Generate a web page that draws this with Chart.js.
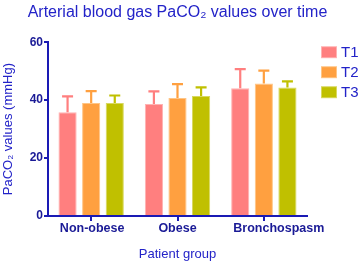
<!DOCTYPE html>
<html><head><meta charset="utf-8">
<script src="https://cdn.jsdelivr.net/npm/chart.js@4/dist/chart.umd.min.js"></script>
<style>html,body{margin:0;padding:0;background:#fff}#wrap{width:360px;height:262px}</style>
</head><body><div id="wrap"><canvas id="c" width="360" height="262"></canvas></div>
<script>
const categories = ['Non-obese', 'Obese', 'Bronchospasm'];
const seriesNames = ['T1', 'T2', 'T3'];
const t1Mean = [35.8, 38.7, 44.1];
const t1Err = [41.3, 43.0, 50.7];
const t2Mean = [39.0, 40.7, 45.7];
const t2Err = [43.1, 45.5, 50.2];
const t3Mean = [39.0, 41.4, 44.4];
const t3Err = [41.6, 44.4, 46.5];
const yTicks = [0, 20, 40, 60];

const colors = ['#FF7F7F', '#FFA040', '#C0C000'];
const edges = ['#FFB2B2', '#FFC585', '#D8D860'];
const labelShift = [1, 0, 15];
const axisCol = '#1a1ab4';
const navy = '#1a1a96';
const blue = '#2323c8';
const font = "'Liberation Sans', Arial, sans-serif";

const errorBars = {
  id: 'errorBars',
  afterDatasetsDraw(chart) {
    const ctx = chart.ctx;
    const y = chart.scales.y;
    chart.data.datasets.forEach((ds, i) => {
      const meta = chart.getDatasetMeta(i);
      meta.data.forEach((bar, j) => {
        const top = y.getPixelForValue(ds.errTop[j]);
        ctx.save();
        ctx.strokeStyle = ds.backgroundColor;
        ctx.lineWidth = 2.2;
        ctx.beginPath();
        ctx.moveTo(bar.x, bar.y);
        ctx.lineTo(bar.x, top);
        ctx.moveTo(bar.x - 5.5, top);
        ctx.lineTo(bar.x + 5.5, top);
        ctx.stroke();
        ctx.restore();
      });
    });
  }
};

const xLabels = {
  id: 'xLabels',
  afterDraw(chart) {
    const ctx = chart.ctx;
    const sx = chart.scales.x;
    ctx.save();
    ctx.font = "bold 12.5px " + font;
    ctx.fillStyle = navy;
    ctx.textAlign = 'center';
    ctx.textBaseline = 'middle';
    chart.data.labels.forEach((lab, i) => {
      ctx.fillText(lab, sx.getPixelForTick(i) + labelShift[i], sx.top + 12.5);
    });
    ctx.restore();
  }
};

const sideLegend = {
  id: 'sideLegend',
  afterDraw(chart) {
    const ctx = chart.ctx;
    const x0 = chart.chartArea.right + 14;
    const y0 = chart.chartArea.top + 4;
    ctx.save();
    ctx.font = "15px " + font;
    ctx.textBaseline = 'middle';
    chart.data.datasets.forEach((ds, i) => {
      const yy = y0 + i * 20;
      ctx.fillStyle = ds.borderColor;
      ctx.fillRect(x0, yy, 16, 12);
      ctx.fillStyle = ds.backgroundColor;
      ctx.fillRect(x0 + 1, yy + 1, 14, 10);
      ctx.fillStyle = blue;
      ctx.fillText(ds.label, x0 + 20, yy + 7);
    });
    ctx.restore();
  }
};

new Chart(document.getElementById('c'), {
  type: 'bar',
  data: {
    labels: categories,
    datasets: seriesNames.map((n, i) => ({
      label: n,
      data: [t1Mean, t2Mean, t3Mean][i],
      errTop: [t1Err, t2Err, t3Err][i],
      backgroundColor: colors[i],
      borderColor: edges[i],
      borderWidth: 1
    }))
  },
  options: {
    responsive: false,
    animation: false,
    devicePixelRatio: 1,
    layout: {padding: {left: 0, right: 5, top: 0, bottom: 0}},
    datasets: {bar: {categoryPercentage: 0.82, barPercentage: 0.77}},
    plugins: {
      title: {display: true, text: 'Arterial blood gas PaCO₂ values over time', color: blue,
        font: {family: font, size: 16, weight: 'normal'}, padding: {top: 3, bottom: 20}},
      legend: {display: false},
      tooltip: {enabled: false}
    },
    scales: {
      x: {
        grid: {display: true, drawOnChartArea: false, offset: false, color: axisCol, lineWidth: 2, tickLength: 5},
        border: {color: axisCol, width: 2},
        ticks: {color: 'rgba(0,0,0,0)', font: {family: font, size: 12, weight: 'bold'}, padding: 0, maxRotation: 0, minRotation: 0, autoSkip: false},
        title: {display: true, text: 'Patient group', color: blue, font: {family: font, size: 13}, padding: {top: 11, bottom: 0}}
      },
      y: {
        min: 0, max: 60,
        afterBuildTicks: (s) => { s.ticks = yTicks.map(v => ({value: v})); },
        afterFit: (s) => { s.width = 48; },
        grid: {display: true, drawOnChartArea: false, color: axisCol, lineWidth: 2, tickLength: 4},
        border: {color: axisCol, width: 2},
        ticks: {color: navy, font: {family: font, size: 12, weight: 'bold'}, padding: 1},
        title: {display: true, text: 'PaCO₂ values (mmHg)', color: blue, font: {family: font, size: 13}, padding: {top: 1, bottom: 4}}
      },
      pad: {
        position: 'right', display: true, min: 0, max: 1,
        afterFit: (s) => { s.width = 48; },
        grid: {display: false}, border: {display: false}, ticks: {display: false}
      }
    }
  },
  plugins: [errorBars, xLabels, sideLegend]
});
</script></body></html>
